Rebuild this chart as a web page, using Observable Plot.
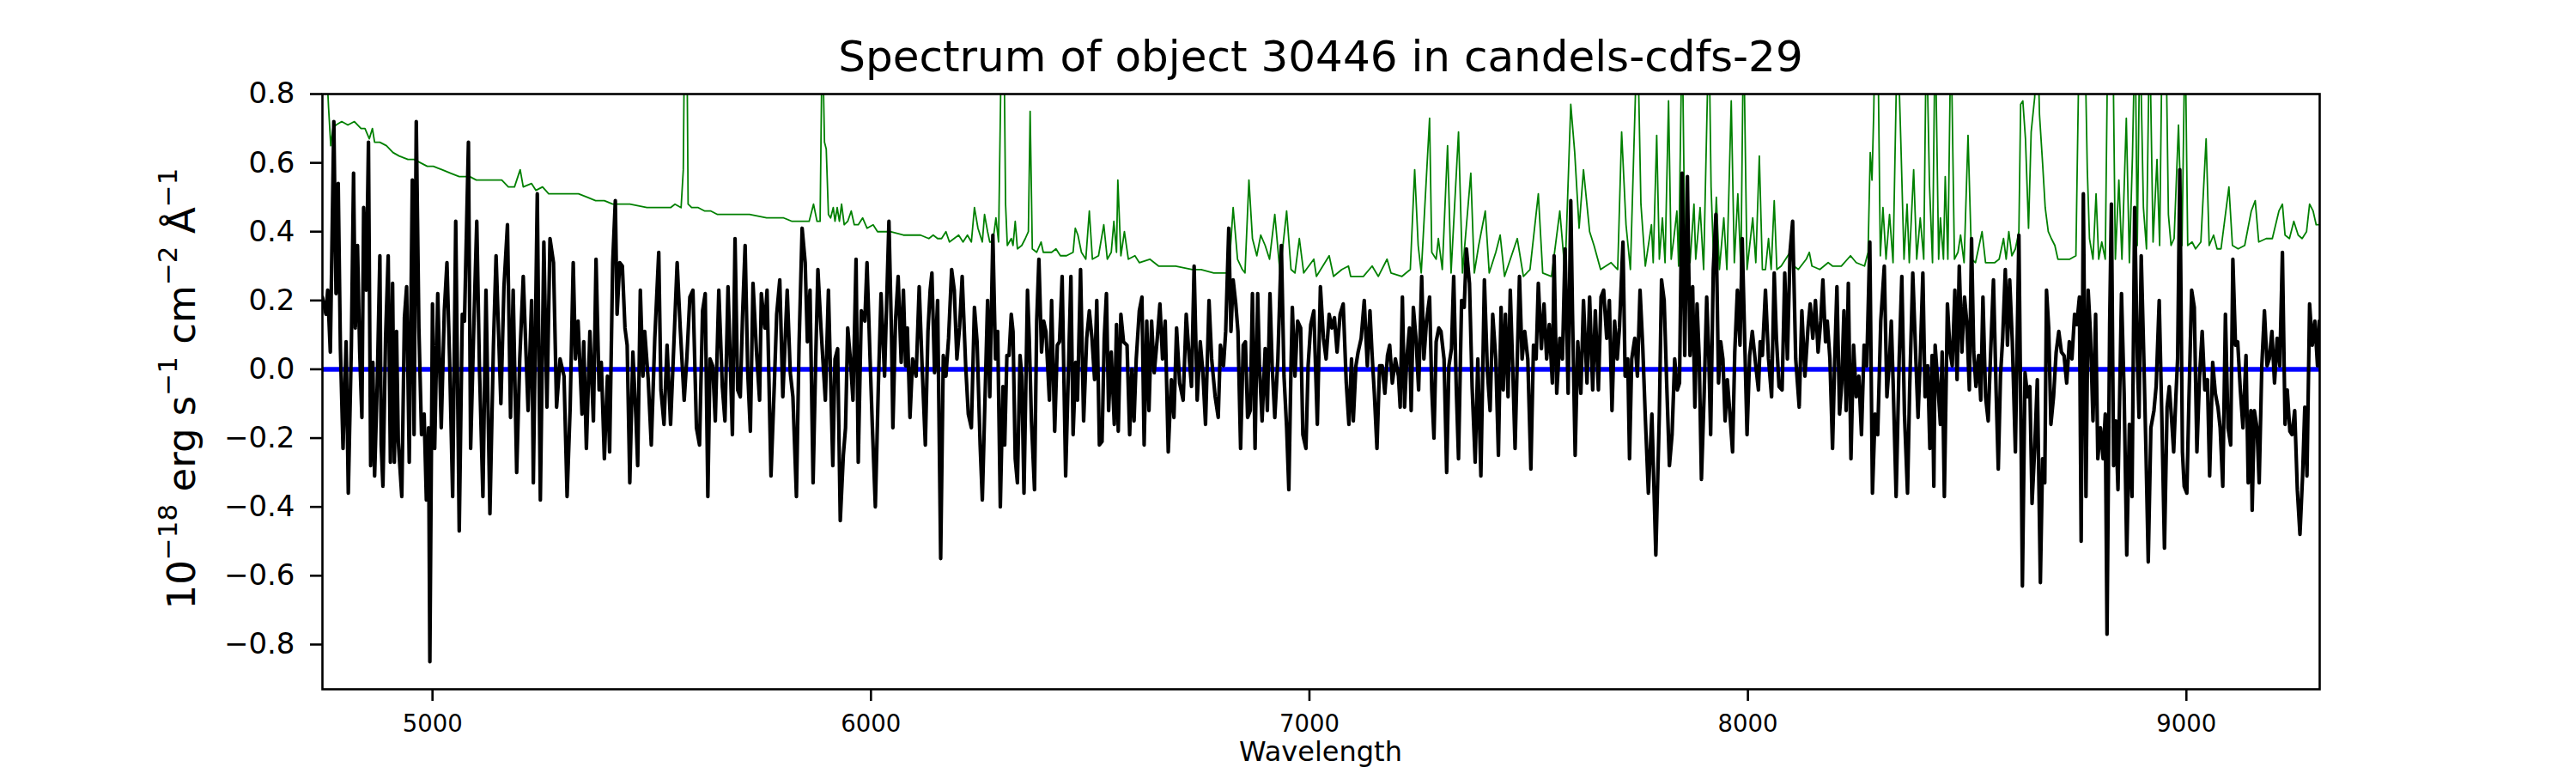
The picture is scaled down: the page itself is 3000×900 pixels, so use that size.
<!DOCTYPE html>
<html><head><meta charset="utf-8">
<script src="https://cdn.jsdelivr.net/npm/d3@7"></script>
<script src="https://cdn.jsdelivr.net/npm/@observablehq/plot@0.6"></script>
<style>html,body{margin:0;padding:0;background:#fff} svg{display:block}</style>
</head><body><div id="chart"></div>
<script>
// ---- data ----
const fluxWave = [4749,4757,4761,4767,4775,4780,4785,4790,4796,4803,4808,4815,4820,4824,4829,4834,4839,4843,4849,4854,4859,4864,4868,4874,4880,4883,4887,4893,4899,4904,4909,4913,4918,4922,4930,4936,4941,4947,4954,4958,4963,4969,4975,4981,4986,4991,4994,5000,5005,5012,5020,5027,5033,5039,5046,5053,5061,5068,5073,5082,5087,5095,5101,5107,5115,5122,5131,5139,5145,5156,5163,5171,5178,5184,5192,5199,5207,5218,5226,5230,5239,5246,5254,5261,5268,5276,5283,5291,5300,5307,5314,5321,5326,5332,5341,5345,5351,5359,5367,5373,5380,5385,5392,5399,5404,5411,5417,5421,5427,5433,5439,5444,5450,5457,5464,5468,5474,5480,5484,5492,5499,5507,5516,5521,5528,5535,5543,5552,5558,5565,5574,5580,5587,5594,5602,5609,5616,5622,5628,5633,5639,5645,5653,5661,5667,5674,5679,5684,5690,5696,5702,5707,5713,5719,5725,5731,5739,5746,5750,5758,5763,5772,5780,5785,5792,5799,5809,5816,5822,5830,5836,5843,5850,5855,5861,5868,5874,5879,5886,5896,5903,5913,5918,5924,5930,5937,5942,5947,5953,5959,5966,5971,5978,5986,5991,5998,6003,6010,6017,6023,6031,6041,6047,6050,6056,6062,6069,6074,6079,6083,6089,6095,6103,6110,6116,6124,6130,6135,6139,6145,6152,6159,6165,6171,6177,6184,6190,6196,6202,6208,6216,6222,6229,6236,6242,6249,6254,
6266,6271,6278,6284,6289,6295,6301,6305,6310,6315,6320,6324,6329,6334,6340,6344,6349,6357,6361,6366,6373,6378,6383,6389,6394,6399,6407,6412,6419,6425,6430,6436,6444,6451,6456,6461,6467,6471,6478,6485,6492,6498,6504,6510,6515,6521,6527,6532,6537,6542,6548,6555,6560,6564,6570,6576,6584,6590,6595,6600,6605,6612,6618,6623,6629,6634,6640,6646,6653,6659,6665,6671,6678,6685,6691,6697,6704,6712,6719,6726,6731,6737,6744,6751,6757,6763,6771,6777,6785,6792,6797,6804,6809,6816,6821,6826,6832,6837,6843,6849,6854,6859,6865,6870,6876,6882,6886,6892,6899,6904,6910,6915,6921,6928,6936,6942,6948,6953,6958,6961,6967,6973,6980,6985,6992,6997,7003,7010,7018,7025,7032,7038,7045,7051,7057,7063,7070,7077,7084,7090,7096,7100,7106,7111,7118,7125,7132,7138,7143,7148,7154,7160,7166,7172,7178,7183,7189,7196,7203,7207,7212,7217,7222,7228,7232,7237,7243,7249,7256,7261,7267,7274,7279,7284,7289,7295,7300,7307,7313,7318,7324,7329,7335,7340,7347,7353,7358,7365,7371,7378,7384,7391,7399,7406,7412,7418,7425,7431,7437,7442,7447,7453,7458,7463,7469,7474,7479,7485,7491,7498,7505,7511,7517,7522,7529,7535,7541,7547,7554,7558,7564,7571,7577,7583,7590,7596,7600,7606,7612,7619,7625,7633,7639,7646,7652,7659,7665,7671,7678,7684,7690,7696,7702,7707,7715,7720,7726,7730,7735,7742,7748,7754,7760,7766,7773,7781,7790,
7798,7803,7809,7815,7821,7827,7833,7839,7844,7850,7856,7862,7868,7874,7879,7884,7889,7894,7900,7906,7911,7915,7921,7927,7933,7938,7943,7948,7953,7959,7965,7970,7976,7982,7987,7992,7998,8004,8010,8018,8024,8028,8033,8040,8047,8054,8060,8065,8071,8078,8084,8090,8096,8102,8109,8117,8123,8130,8137,8142,8148,8154,8160,8166,8171,8177,8181,8187,8193,8198,8203,8209,8214,8219,8224,8229,8235,8241,8247,8253,8259,8265,8271,8278,8284,8290,8296,8303,8311,8317,8323,8327,8331,8338,8345,8351,8357,8364,8369,8376,8383,8388,8393,8399,8404,8410,8415,8420,8424,8427,8433,8439,8443,8448,8455,8461,8466,8472,8477,8482,8488,8494,8499,8505,8510,8515,8520,8526,8531,8536,8542,8548,8553,8560,8566,8571,8576,8581,8587,8592,8597,8603,8610,8618,8623,8626,8632,8638,8643,8648,8654,8660,8667,8672,8677,8681,8686,8691,8697,8703,8709,8715,8721,8727,8733,8739,8745,8750,8756,8760,8765,8771,8776,8781,8787,8793,8798,8804,8810,8815,8819,8825,8829,8834,8839,8844,8852,8858,8864,8870,8876,8882,8888,8892,8897,8903,8908,8913,8919,8926,8931,8938,8944,8950,8956,8961,8966,8971,8976,8980,8985,8991,8995,9001,9006,9012,9018,9024,9030,9036,9042,9048,9053,9060,9066,9072,9077,9083,9089,9095,9101,9106,9112,9117,9123,9129,9136,9141,9147,9150,9155,9161,9166,9172,9178,9184,9189,9195,9201,9207,9213,9219,9225,9230,9236,9241,9247,9253,9259,9265,9270,9275,9281,9287,9293,9299,9303];

const fluxValue = [0.21,0.16,0.23,0.05,0.72,0.22,0.54,0.06,-0.23,0.08,-0.36,0.07,0.57,0.12,0.36,0.05,-0.14,0.47,0.23,0.66,-0.28,0.02,-0.31,-0.04,0.33,-0.22,-0.34,0.09,0.33,-0.27,0.25,-0.27,0.11,-0.21,-0.37,0.15,0.24,-0.27,0.55,-0.19,0.72,0.12,-0.19,-0.13,-0.38,-0.17,-0.85,0.19,-0.23,0.22,-0.17,0.17,0.31,0.03,-0.37,0.43,-0.47,0.16,0.14,0.66,-0.23,0.16,0.43,0.01,-0.37,0.23,-0.42,0.07,0.33,-0.10,0.24,0.42,-0.14,0.23,-0.30,0.03,0.27,-0.12,0.20,-0.33,0.51,-0.38,0.37,-0.11,0.38,0.31,-0.11,0.03,-0.02,-0.37,-0.11,0.31,0.03,0.14,-0.13,0.08,-0.23,0.11,-0.15,0.32,-0.06,0.02,-0.26,-0.02,-0.24,0.31,0.49,0.16,0.31,0.30,0.12,0.07,-0.33,0.05,-0.14,-0.28,0.23,-0.02,0.11,-0.03,-0.22,0.09,0.34,-0.06,-0.16,0.07,-0.16,0.12,0.31,0.12,-0.09,0.03,0.21,0.23,-0.17,-0.22,0.17,0.22,-0.37,0.03,0.01,-0.15,0.23,-0.05,-0.15,0.24,0.03,-0.19,0.38,-0.06,-0.08,0.15,0.36,-0.01,-0.18,0.25,0.05,-0.09,0.22,0.12,0.23,-0.31,-0.03,0.16,0.26,-0.08,0.23,-0.01,-0.08,-0.37,0.07,0.41,0.31,0.08,0.23,-0.33,0.03,0.29,0.12,-0.09,0.23,-0.28,0.03,0.06,-0.44,-0.25,-0.17,0.12,0.03,-0.09,0.32,-0.27,0.17,0.14,0.31,0.03,-0.16,-0.40,-0.04,0.22,-0.02,0.43,0.09,-0.17,0.14,0.27,0.02,0.23,0.01,0.12,-0.14,0.03,-0.02,0.24,0.03,-0.22,0.11,0.23,0.28,-0.01,0.20,-0.55,0.04,-0.02,0.09,0.29,0.23,0.03,0.12,0.27,0.01,-0.13,-0.17,0.18,0.08,-0.22,-0.38,
0.20,-0.08,0.39,0.03,0.11,-0.40,-0.05,-0.22,0.04,0.04,0.16,0.11,-0.26,-0.33,0.04,-0.02,-0.36,0.23,0.09,-0.15,-0.35,0.14,0.32,0.05,0.14,0.11,-0.09,0.20,-0.18,0.07,0.08,0.27,-0.31,0.03,0.27,-0.19,0.02,-0.09,0.29,-0.15,0.09,0.17,0.09,-0.03,0.20,-0.22,-0.21,0.09,0.22,-0.12,0.05,-0.16,0.13,-0.18,0.16,0.08,0.07,-0.19,0.00,-0.15,0.03,0.17,0.21,-0.22,0.14,-0.12,0.14,-0.01,0.09,0.19,0.03,0.14,-0.24,-0.03,-0.14,0.12,-0.04,-0.09,0.16,0.03,-0.05,0.30,-0.09,0.08,-0.01,-0.16,0.20,0.03,-0.08,-0.14,0.07,0.01,0.11,0.41,0.11,0.26,0.19,0.11,-0.23,0.07,0.08,-0.14,-0.12,0.22,-0.23,0.22,0.01,-0.15,0.06,-0.12,0.22,0.01,-0.14,0.03,0.36,-0.02,-0.17,-0.35,0.01,0.18,-0.02,0.14,0.12,-0.19,-0.23,0.01,0.13,0.17,-0.16,0.24,0.09,0.03,0.16,0.12,0.15,0.05,0.16,0.19,-0.04,-0.16,0.03,-0.15,0.01,0.05,0.09,0.20,0.01,0.17,0.04,-0.07,-0.23,0.01,0.01,-0.07,0.04,0.07,-0.04,0.03,-0.02,-0.11,0.21,-0.11,0.03,0.12,-0.12,0.18,0.09,-0.06,0.27,0.03,0.14,0.21,-0.06,-0.20,0.08,0.12,0.11,0.03,-0.30,0.01,0.06,0.27,-0.06,-0.26,0.20,0.18,0.35,0.25,-0.05,-0.27,0.03,-0.31,0.26,-0.01,-0.12,0.16,0.03,-0.25,0.18,-0.06,0.16,-0.08,0.23,0.03,-0.23,0.03,0.27,0.03,0.11,0.03,-0.29,0.07,0.03,0.25,0.06,0.19,0.03,0.13,-0.04,0.33,-0.07,0.09,0.03,0.35,-0.07,0.49,0.16,-0.25,0.08,-0.07,0.20,-0.04,0.21,-0.06,0.17,-0.06,0.21,0.23,0.09,0.20,-0.12,0.14,0.03,0.12,0.37,-0.02,0.03,-0.26,0.03,0.09,-0.02,0.23,0.07,-0.14,-0.36,-0.13,-0.54,
-0.13,0.26,0.20,-0.05,-0.28,-0.19,0.03,-0.06,-0.04,0.57,0.04,0.56,0.04,0.24,-0.11,0.19,0.03,-0.32,-0.08,0.21,0.03,-0.19,0.29,0.45,-0.04,0.08,0.03,-0.15,-0.03,-0.13,-0.24,0.05,0.23,0.07,0.38,0.12,-0.19,0.04,0.11,0.01,-0.06,0.08,0.04,0.23,0.03,-0.08,0.28,0.09,-0.05,-0.06,0.28,0.03,0.34,0.43,0.03,-0.11,0.17,-0.02,0.12,0.19,0.09,0.20,0.05,0.14,0.26,0.08,0.14,0.03,-0.23,0.03,0.24,-0.13,-0.04,0.17,-0.12,0.25,-0.26,0.07,-0.08,-0.02,-0.19,0.07,0.01,0.37,-0.36,-0.13,-0.19,0.14,0.30,-0.08,0.03,0.14,-0.03,-0.37,0.03,0.27,-0.13,-0.36,-0.05,0.28,0.03,-0.14,0.03,0.28,-0.08,0.01,-0.23,0.04,-0.34,0.07,-0.04,-0.16,0.05,-0.37,0.19,0.05,0.01,0.23,-0.03,0.30,0.05,0.21,0.14,-0.06,0.38,0.05,-0.05,0.04,-0.09,0.21,-0.08,-0.15,0.03,0.26,-0.06,-0.29,-0.02,0.09,0.29,0.07,0.26,0.08,-0.24,0.39,-0.21,-0.63,-0.01,-0.08,-0.05,-0.39,-0.23,-0.03,-0.62,-0.26,-0.33,0.23,0.12,-0.16,-0.08,0.05,0.11,0.05,0.04,-0.04,0.08,0.03,0.16,0.13,0.21,-0.50,0.51,-0.37,0.23,0.11,-0.15,0.16,-0.26,-0.17,-0.26,-0.13,-0.77,0.13,0.48,-0.28,-0.15,-0.35,0.22,-0.07,-0.54,-0.16,-0.37,0.47,0.04,-0.14,0.33,0.03,-0.25,-0.56,-0.17,-0.12,-0.05,0.20,-0.14,-0.52,-0.11,-0.05,-0.14,-0.24,-0.08,0.03,0.58,-0.24,-0.34,-0.36,-0.08,0.23,0.18,-0.24,-0.02,0.11,-0.06,-0.03,-0.31,0.02,-0.07,-0.11,-0.17,-0.34,0.16,-0.17,-0.22,0.32,0.07,0.08,-0.06,-0.17,0.04,-0.33,-0.12,-0.41,-0.12,-0.17,-0.33,0.01,0.17,0.01,0.03,0.11,-0.04,0.09,0.01,0.34,-0.16,-0.06,-0.18,-0.19,-0.12,-0.35,-0.48,-0.31,-0.11,-0.31,0.19,0.07,0.14,0.01,0.14];

const errWave = [4749,4754,4763,4768,4773,4780,4793,4807,4822,4837,4846,4856,4863,4868,4880,4895,4910,4924,4944,4958,4973,4988,5002,5022,5041,5061,5085,5100,5119,5139,5158,5173,5187,5200,5207,5226,5236,5251,5265,5294,5333,5353,5372,5392,5411,5450,5489,5528,5543,5553,5567,5572,5575,5580,5583,5591,5606,5621,5635,5650,5684,5723,5762,5781,5801,5820,5840,5859,5869,5877,5884,5889,5894,5898,5903,5908,5914,5918,5923,5928,5933,5939,5947,5955,5962,5971,5981,5991,6005,6015,6044,6074,6093,6113,6132,6142,6152,6161,6171,6179,6200,6210,6220,6229,6236,6244,6254,6259,
6266,6271,6278,6285,6291,6298,6303,6307,6311,6320,6324,6329,6334,6344,6352,6359,6363,6368,6378,6388,6393,6412,6422,6432,6446,6461,6466,6472,6480,6490,6498,6505,6519,6531,6539,6548,6554,6560,6563,6570,6578,6587,6602,6612,6636,6656,6695,6733,6753,6782,6816,6826,6836,6847,6853,6862,6870,6880,6889,6899,6909,6921,6933,6948,6958,6967,6977,6987,7010,7016,7045,7055,7074,7089,7094,7123,7143,7157,7177,7186,7211,7230,7240,7248,7255,7274,7279,7289,7294,7303,7315,7323,7340,7349,7368,7376,7386,7401,7410,7425,7435,7445,7474,7488,7503,7522,7532,7552,7571,7583,7596,7605,7615,7625,7639,7649,7664,7688,7703,7712,7722,7732,7748,7756,7766,7780,
7784,7792,7798,7805,7811,7819,7825,7831,7838,7842,7850,7856,7862,7868,7877,7881,7891,7899,7911,7916,7922,7928,7935,7945,7952,7962,7969,7977,7984,7990,7998,8011,8018,8026,8033,8040,8047,8053,8060,8066,8076,8086,8096,8105,8115,8133,8140,8146,8164,8183,8193,8213,8234,8247,8266,8274,8279,8283,8287,8290,8296,8302,8308,8315,8323,8331,8341,8349,8356,8363,8368,8378,8385,8393,8401,8407,8414,8421,8427,8435,8439,8446,8450,8456,8463,8471,8479,8485,8493,8502,8510,8519,8534,8542,8563,8573,8583,8589,8595,8602,8610,8618,8622,8627,8633,8640,8646,8654,8660,8665,8672,8678,8685,8692,8700,8707,8719,8734,8748,8756,8768,8774,8779,8787,8794,8800,8807,8815,8821,8832,8838,8846,8853,8863,8870,8877,8883,8888,8894,8902,8909,8916,8924,8933,8939,8945,8953,8959,8965,8972,8982,8990,8997,9003,9013,9021,9033,9045,9052,9062,9070,9079,9097,9105,9118,9133,9148,9157,9165,9182,9196,9211,9219,9225,9235,9245,9255,9264,9274,9281,9289,9296,9303];

const errValue = [1.0,1.0,0.76,0.65,0.70,0.71,0.72,0.71,0.72,0.70,0.70,0.67,0.70,0.66,0.66,0.65,0.63,0.62,0.61,0.61,0.60,0.59,0.59,0.58,0.57,0.56,0.56,0.55,0.55,0.55,0.55,0.53,0.53,0.58,0.53,0.54,0.52,0.53,0.51,0.51,0.51,0.50,0.49,0.49,0.48,0.48,0.47,0.47,0.47,0.48,0.47,0.58,1.0,1.0,0.48,0.47,0.47,0.46,0.46,0.45,0.45,0.45,0.44,0.44,0.44,0.43,0.43,0.43,0.48,0.43,0.43,1.0,0.66,0.64,0.45,0.44,0.47,0.43,0.47,0.43,0.48,0.42,0.43,0.46,0.42,0.42,0.44,0.41,0.42,0.40,0.40,0.39,0.39,0.39,0.38,0.39,0.38,0.38,0.40,0.37,0.39,0.37,0.39,0.37,0.47,0.41,0.37,0.45,
0.40,0.37,0.37,0.44,0.37,1.0,1.0,0.48,0.36,0.38,0.36,0.43,0.35,0.36,0.38,0.40,0.75,0.35,0.34,0.37,0.34,0.34,0.35,0.33,0.33,0.34,0.41,0.39,0.34,0.32,0.46,0.32,0.33,0.42,0.32,0.34,0.43,0.34,0.55,0.33,0.40,0.32,0.33,0.31,0.32,0.30,0.30,0.29,0.29,0.28,0.28,0.47,0.32,0.29,0.28,0.55,0.38,0.33,0.39,0.36,0.32,0.45,0.28,0.46,0.29,0.28,0.38,0.28,0.32,0.27,0.33,0.27,0.29,0.30,0.27,0.27,0.30,0.27,0.32,0.28,0.27,0.29,0.58,0.36,0.28,0.73,0.34,0.32,0.38,0.29,0.65,0.28,0.69,0.28,0.57,0.28,0.36,0.46,0.28,0.34,0.39,0.27,0.38,0.27,0.29,0.51,0.28,0.27,0.46,0.28,0.77,0.63,0.41,0.58,0.40,0.36,0.29,0.31,0.29,0.69,0.42,0.29,1.0,0.48,0.30,0.42,
0.31,0.68,0.32,0.44,0.31,0.78,0.32,0.38,0.46,0.30,1.0,0.37,0.46,0.31,0.48,0.32,0.47,0.29,1.0,0.53,0.31,0.50,0.29,0.44,0.29,0.78,0.31,0.51,0.29,1.0,0.29,0.44,0.31,0.62,0.29,0.29,0.38,0.29,0.49,0.29,0.30,0.32,0.34,0.30,0.29,0.32,0.34,0.30,0.29,0.31,0.30,0.30,0.33,0.31,0.30,0.34,0.63,0.55,0.75,1.0,1.0,0.33,0.47,0.32,0.45,0.31,1.0,0.65,0.32,0.48,0.31,0.58,0.32,0.44,0.32,1.0,0.54,0.31,1.0,0.32,0.44,0.32,0.56,0.32,1.0,0.32,0.34,0.39,0.31,0.68,0.32,0.31,0.40,0.31,0.31,0.32,0.38,0.32,0.40,0.33,0.35,0.40,0.77,0.78,0.67,0.41,0.69,0.79,1.0,0.74,0.60,0.47,0.40,0.38,0.36,0.32,0.32,0.32,0.33,1.0,1.0,0.58,0.38,0.32,0.51,0.32,0.37,0.32,1.0,1.0,0.32,0.55,0.32,0.73,0.31,0.62,1.0,0.36,1.0,0.47,0.35,1.0,0.37,0.61,0.36,1.0,1.0,0.45,0.36,0.38,0.71,0.36,1.0,0.36,0.37,0.35,0.37,0.67,0.36,0.39,0.35,0.35,0.53,0.36,0.35,0.36,0.46,0.49,0.37,0.38,0.38,0.46,0.48,0.39,0.38,0.43,0.39,0.38,0.40,0.48,0.46,0.42,0.42];

const zeroLevel = [0];
const xTicks = [5000, 6000, 7000, 8000, 9000];
const yTicks = [-0.8, -0.6, -0.4, -0.2, 0.0, 0.2, 0.4, 0.6, 0.8];
const xDomain = [4749, 9304];
const yDomain = [-0.93, 0.8];
const titleText = "Spectrum of object 30446 in candels-cdfs-29";
const xLabelText = "Wavelength";

// ---- build ----
const flux = fluxWave.map((w, i) => ({w, v: fluxValue[i]}));
const err = errWave.map((w, i) => ({w, v: errValue[i]}));

const W = 3000, H = 900, mL = 375, mR = 299, mT = 109, mB = 98;
const FONT = "'DejaVu Sans', 'Liberation Sans', sans-serif";

const chart = Plot.plot({
  width: W, height: H,
  marginLeft: mL, marginRight: mR, marginTop: mT, marginBottom: mB,
  style: {fontFamily: FONT, background: "#fff", color: "#000", overflow: "visible"},
  x: {domain: xDomain},
  y: {domain: yDomain},
  marks: [
    Plot.line(err, {x: "w", y: "v", stroke: "#008000", strokeWidth: 1.8, clip: true}),
    Plot.ruleY(zeroLevel, {stroke: "#0000ff", strokeWidth: 5.5}),
    Plot.line(flux, {x: "w", y: "v", stroke: "#000", strokeWidth: 4.2, clip: true}),
    Plot.frame({stroke: "#000", strokeWidth: 2.6}),
    Plot.axisX({ticks: xTicks, tickSize: 14, tickPadding: 16, fontSize: 27.5, strokeWidth: 2.6,
      label: null, tickFormat: d => String(d)}),
    Plot.axisY({ticks: yTicks, tickSize: 14, tickPadding: 18, fontSize: 34, strokeWidth: 2.6,
      label: null, tickFormat: d3.format(".1f")})
  ]
});
document.getElementById("chart").appendChild(chart);

const svg = d3.select(chart);
const cx = (mL + (W - mR)) / 2;
const cy = (mT + (H - mB)) / 2;

svg.append("text").attr("x", cx).attr("y", 83).attr("text-anchor", "middle")
  .attr("font-family", FONT).attr("font-size", 50).attr("fill", "#000").text(titleText);

svg.append("text").attr("x", cx).attr("y", 886).attr("text-anchor", "middle")
  .attr("font-family", FONT).attr("font-size", 32).attr("fill", "#000").text(xLabelText);

// y label with superscripts
const F = 45, S = 31, R = 21;
const yl = svg.append("text")
  .attr("transform", `translate(227,${cy - 3}) rotate(-90)`)
  .attr("text-anchor", "middle").attr("font-family", FONT).attr("font-size", F).attr("fill", "#000");
const parts = [["10", 0], ["\u221218", 1], [" erg s", 0], ["\u22121", 1], [" cm", 0], ["\u22122", 1], [" \u00c5", 0], ["\u22121", 1]];
let raised = false;
for (const [t, sup] of parts) {
  const ts = yl.append("tspan").text(t);
  if (sup) { ts.attr("font-size", S).attr("dy", raised ? 0 : -R); raised = true; }
  else { ts.attr("dy", raised ? R : 0); raised = false; }
}
</script>
</body></html>
